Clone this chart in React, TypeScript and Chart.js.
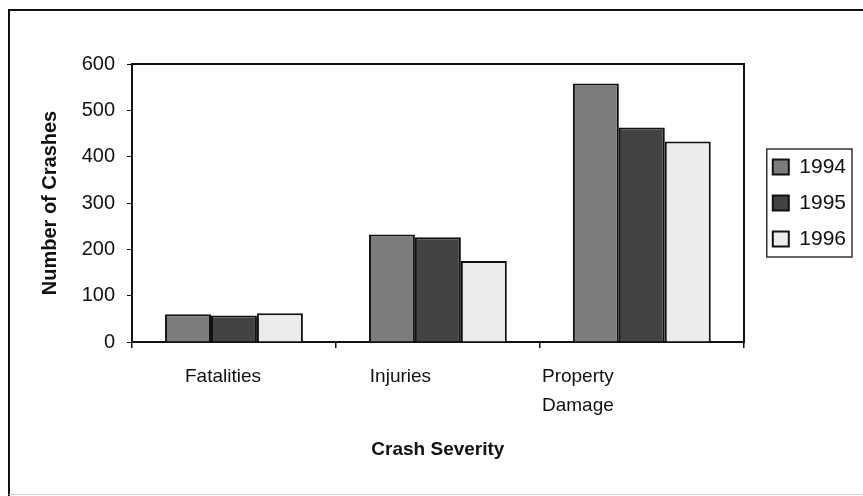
import React, { useEffect, useRef } from 'react';
import { Chart, registerables } from 'chart.js';

Chart.register(...registerables);

const categories = ['Fatalities', 'Injuries', 'Property Damage'];
const categoryLines = [['Fatalities'], ['Injuries'], ['Property', 'Damage']];
const years = ['1994', '1995', '1996'];
const values1994 = [60, 232, 558];
const values1995 = [57, 226, 463];
const values1996 = [62, 175, 433];
const yTicks = [0, 100, 200, 300, 400, 500, 600];
const yTitle = 'Number of Crashes';
const xTitle = 'Crash Severity';

const FONT = "'Liberation Sans', Arial, Helvetica, sans-serif";
const INK = '#111111';
const LABEL_MIN = -0.513;
const LABEL_MAX = 2.935;

const framePlugin = {
  id: 'frame',
  beforeDraw(chart: any) {
    const { ctx, width, height } = chart;
    ctx.save();
    ctx.fillStyle = '#ffffff';
    ctx.fillRect(0, 0, width, height);
    ctx.strokeStyle = INK;
    ctx.lineWidth = 2;
    ctx.beginPath();
    ctx.moveTo(9, height);
    ctx.lineTo(9, 10);
    ctx.lineTo(width, 10);
    ctx.stroke();
    ctx.strokeStyle = '#d0d0d0';
    ctx.lineWidth = 1;
    ctx.beginPath();
    ctx.moveTo(9, height - 1.5);
    ctx.lineTo(width, height - 1.5);
    ctx.stroke();
    ctx.restore();
  },
  afterDraw(chart: any) {
    const lg = chart.legend;
    if (!lg || !lg.legendHitBoxes || !lg.legendHitBoxes.length) return;
    const boxes = lg.legendHitBoxes;
    let l = Infinity, r = -Infinity, t = Infinity, b = -Infinity;
    boxes.forEach((h: any) => {
      l = Math.min(l, h.left);
      r = Math.max(r, h.left + h.width);
      t = Math.min(t, h.top);
      b = Math.max(b, h.top + h.height);
    });
    const { ctx } = chart;
    ctx.save();
    ctx.strokeStyle = '#333333';
    ctx.lineWidth = 1.5;
    ctx.strokeRect(l - 6, t - 7.5, r - l + 12, b - t + 15);
    ctx.restore();
  },
};

export default function App() {
  const ref = useRef<HTMLCanvasElement | null>(null);

  useEffect(() => {
    if (!ref.current) return;
    const chart = new Chart(ref.current, {
      type: 'bar',
      data: {
        labels: categories,
        datasets: [
          { label: years[0], data: values1994, backgroundColor: '#7c7c7c' },
          { label: years[1], data: values1995, backgroundColor: '#434343' },
          { label: years[2], data: values1996, backgroundColor: '#ececec' },
        ].map((d) => ({
          ...d,
          borderColor: INK,
          borderWidth: 2,
          categoryPercentage: 0.676,
          barPercentage: 1,
          xAxisID: 'x',
          yAxisID: 'y',
        })),
      },
      options: {
        animation: false,
        responsive: false,
        maintainAspectRatio: false,
        layout: { padding: { left: 34, right: 7, top: 64, bottom: 0 } },
        plugins: {
          tooltip: { enabled: false },
          legend: {
            display: true,
            position: 'right',
            fullSize: false,
            align: 'center',
            labels: {
              color: INK,
              font: { family: FONT, size: 21 },
              boxWidth: 16,
              boxHeight: 15,
              padding: 15,
            },
          },
        },
        scales: {
          x: {
            type: 'category',
            position: 'bottom',
            weight: 0,
            ticks: { display: false },
            grid: {
              offset: true,
              drawOnChartArea: false,
              drawTicks: true,
              tickLength: 6,
              color: INK,
              lineWidth: 1.5,
            },
            border: { display: true, color: INK, width: 2 },
            afterFit: (s: any) => {
              s.height = 6;
            },
          },
          xl: {
            type: 'linear',
            position: 'bottom',
            weight: 1,
            offset: false,
            bounds: 'data',
            min: LABEL_MIN,
            max: LABEL_MAX,
            afterDataLimits: (s: any) => {
              s.min = LABEL_MIN;
              s.max = LABEL_MAX;
            },
            afterBuildTicks: (s: any) => {
              s.ticks = categories.map((_, i) => ({ value: i }));
              s.min = LABEL_MIN;
              s.max = LABEL_MAX;
            },
            afterFit: (s: any) => {
              s.height = 148;
            },
            ticks: {
              autoSkip: false,
              maxRotation: 0,
              minRotation: 0,
              padding: 14,
              color: INK,
              font: { family: FONT, size: 19, lineHeight: 1.55 },
              callback: (_v: any, i: number) => categoryLines[i] ?? '',
            },
            grid: { display: false, drawTicks: false, offset: false },
            border: { display: false },
            title: {
              display: true,
              text: xTitle,
              color: INK,
              font: { family: FONT, size: 19, weight: 'bold' },
              padding: { top: 0, bottom: 35 },
            },
          },
          x2: {
            type: 'linear',
            position: 'top',
            offset: false,
            ticks: { display: false },
            grid: { drawOnChartArea: false, drawTicks: false },
            border: { display: true, color: INK, width: 2 },
            afterFit: (s: any) => {
              s.height = 0;
            },
          },
          y: {
            type: 'linear',
            position: 'left',
            min: 0,
            max: 600,
            afterBuildTicks: (s: any) => {
              s.ticks = yTicks.map((v) => ({ value: v }));
            },
            afterFit: (s: any) => {
              s.width = 98;
            },
            ticks: {
              padding: 12,
              color: INK,
              font: { family: FONT, size: 20 },
            },
            grid: {
              drawOnChartArea: false,
              drawTicks: true,
              tickLength: 5,
              color: INK,
            },
            border: { display: true, color: INK, width: 2 },
            title: {
              display: true,
              text: yTitle,
              color: INK,
              font: { family: FONT, size: 20, weight: 'bold' },
              padding: { top: 4, bottom: 4 },
            },
          },
          y2: {
            type: 'linear',
            position: 'right',
            ticks: { display: false },
            grid: { drawOnChartArea: false, drawTicks: false },
            border: { display: true, color: INK, width: 2 },
            afterFit: (s: any) => {
              s.width = 14;
            },
          },
        },
      } as any,
      plugins: [framePlugin],
    });
    return () => chart.destroy();
  }, []);

  return (
    <div
      style={{
        position: 'fixed',
        left: 0,
        top: 0,
        width: 863,
        height: 496,
        background: '#ffffff',
      }}
    >
      <canvas ref={ref} width={863} height={496} style={{ display: 'block', width: 863, height: 496 }} />
    </div>
  );
}
